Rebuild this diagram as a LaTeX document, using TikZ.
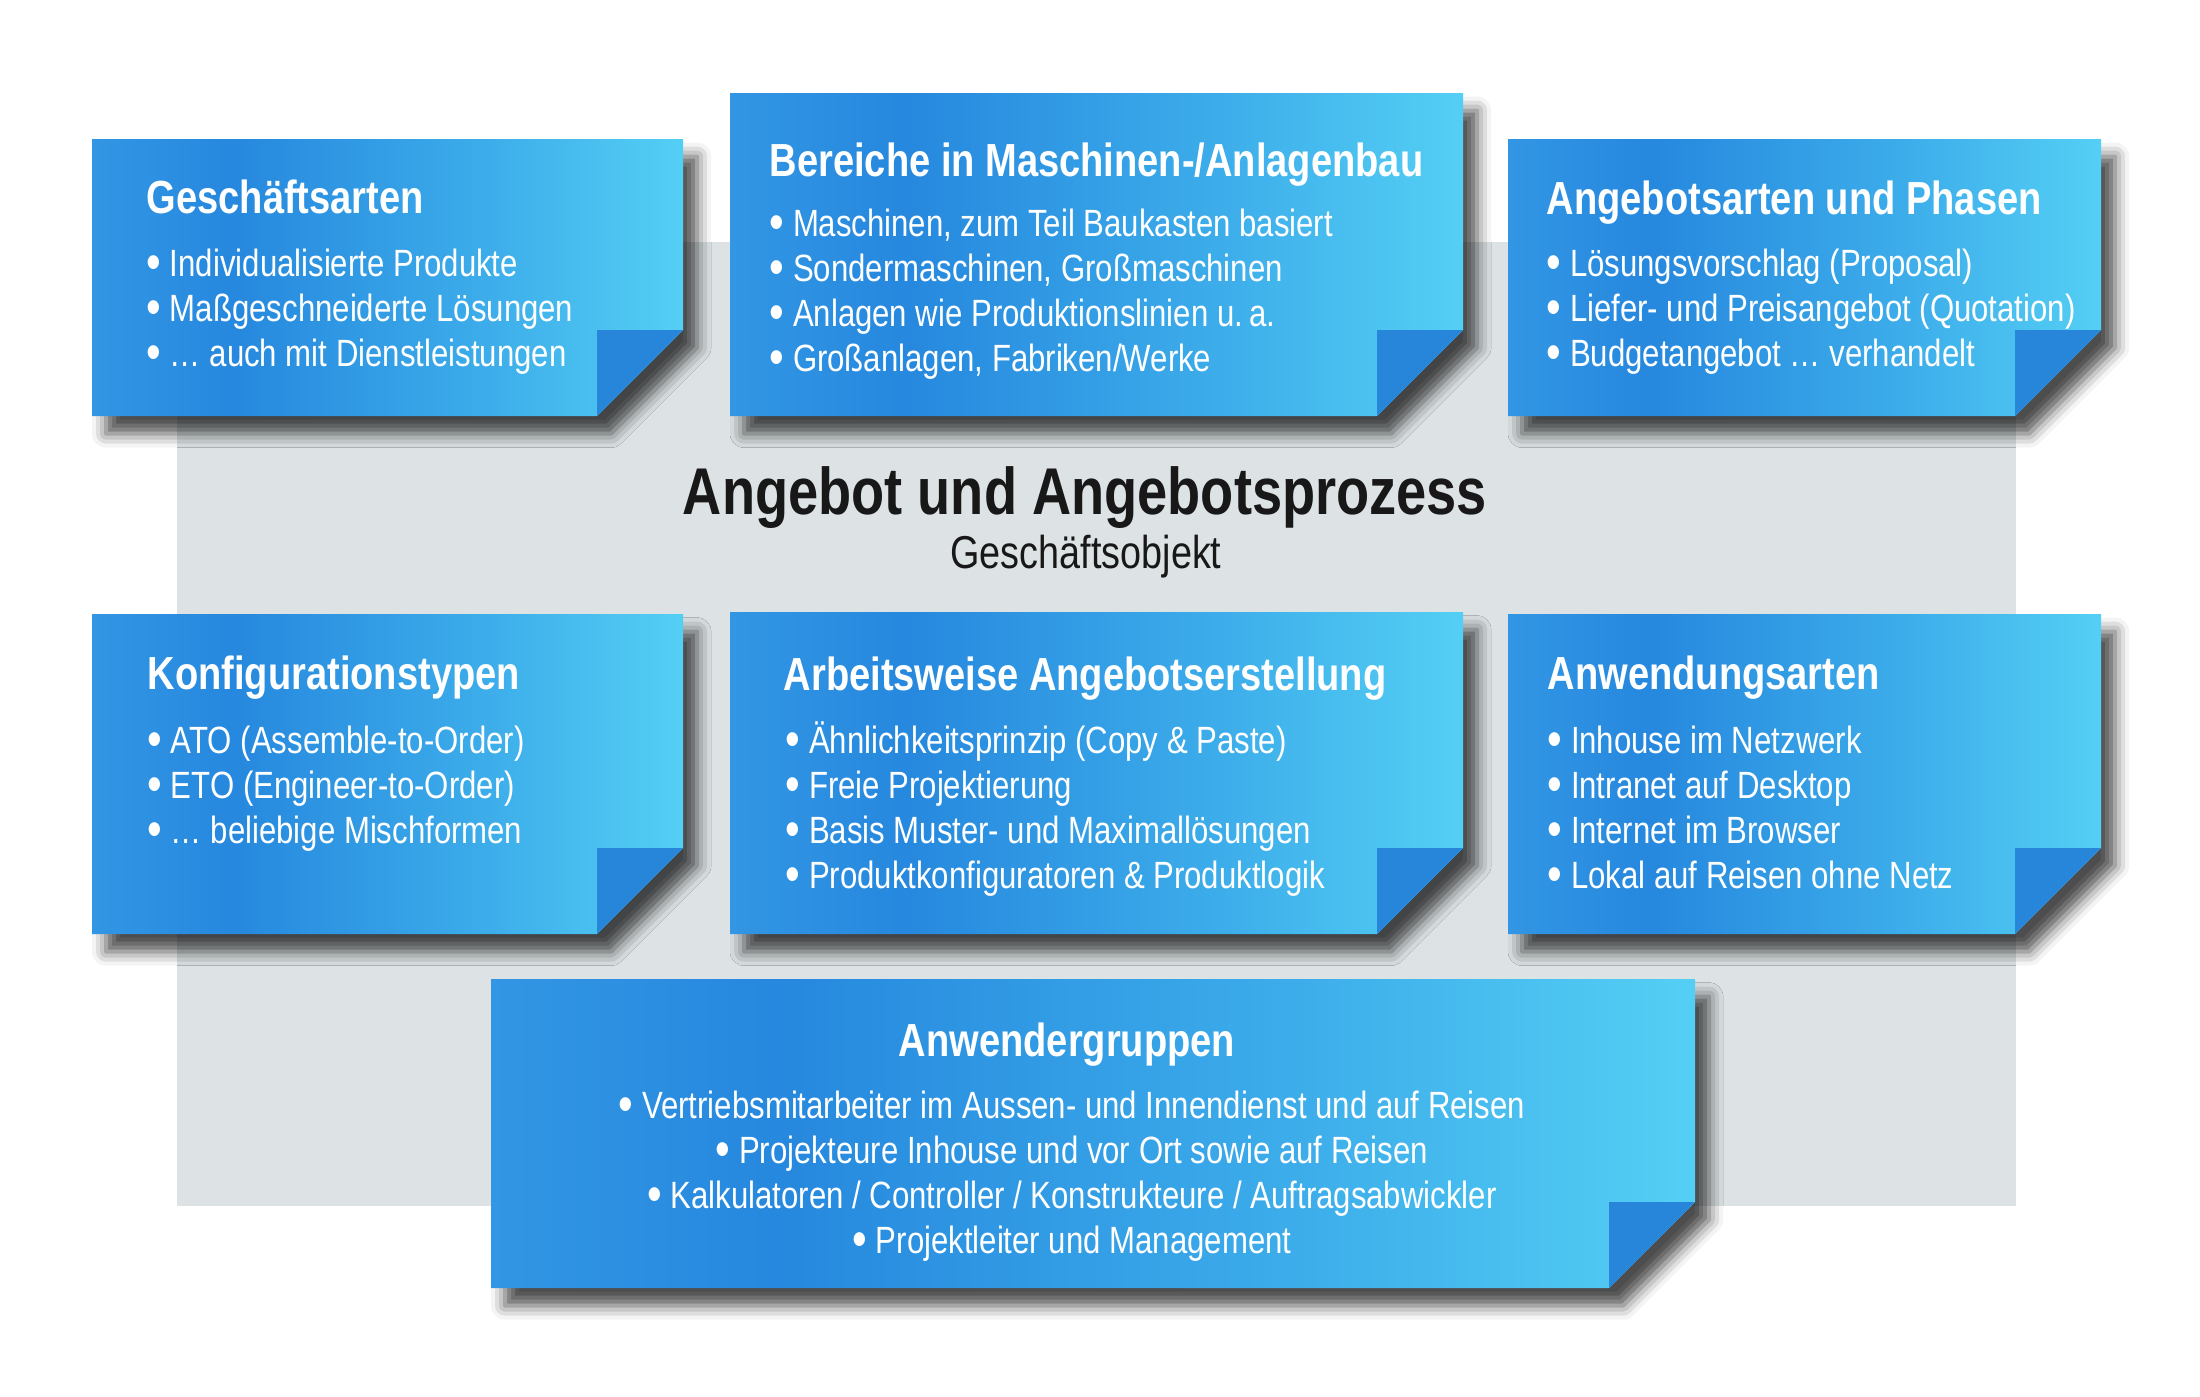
\documentclass[tikz,border=0pt]{standalone}
\usepackage{fontspec}
\setmainfont{Liberation Sans}[FakeStretch=0.82]
\usetikzlibrary{shadows.blur}

\definecolor{sheetleft}{RGB}{50,150,228}
\definecolor{sheetdark}{RGB}{38,136,222}
\definecolor{sheetmid}{RGB}{60,172,234}
\definecolor{sheetlight}{RGB}{84,207,244}
\definecolor{folddark}{RGB}{40,134,218}
\definecolor{backgray}{RGB}{221,227,229}
\definecolor{titleblack}{RGB}{24,24,24}

\pgfdeclarehorizontalshading{sheetshade}{100bp}{color(0bp)=(sheetleft); color(25bp)=(sheetleft); color(37bp)=(sheetdark); color(58bp)=(sheetmid); color(75bp)=(sheetlight); color(100bp)=(sheetlight)}

\tikzset{
    sheet/.style={shading=sheetshade, blur shadow={shadow xshift=4pt, shadow yshift=-5pt, shadow blur radius=4pt, shadow opacity=70}},
    sheettitle/.style={anchor=base west, inner sep=0pt, text=white, font=\fontsize{13.2}{15}\selectfont\bfseries},
    sheetitem/.style={anchor=base west, inner sep=0pt, text=white, font=\fontsize{10.8}{13}\selectfont},
}

% grosser Aufzaehlungspunkt
\newcommand{\sheetdot}{\raisebox{-0.9pt}{\fontsize{14.5}{14}\selectfont\textbullet}\ }

% Blatt mit umgeknickter Ecke: #1 links, #2 oben, #3 rechts, #4 unten (px)
\newcommand{\sheetbox}[4]{%
    \path[sheet] (#1,#2) -- (#3,#2) -- (#3,#4-86) -- (#3-86,#4) -- (#1,#4) -- cycle;
    \fill[folddark] (#3-86,#4-86) -- (#3,#4-86) -- (#3-86,#4) -- cycle;
}

\begin{document}
\begin{tikzpicture}[x=0.01cm, y=-0.01cm]
        \useasboundingbox (0,0) rectangle (2200,1396);
        \fill[backgray] (177,242) rectangle (2016,1206);

        \sheetbox{92}{139}{683}{416}
        \sheetbox{730}{93}{1463}{416}
        \sheetbox{1508}{139}{2101}{416}
        \sheetbox{92}{614}{683}{934}
        \sheetbox{730}{612}{1463}{934}
        \sheetbox{1508}{614}{2101}{934}
        \sheetbox{491}{979}{1695}{1288}

        \node[anchor=base, inner sep=0pt, text=titleblack, font=\fontsize{18.8}{22}\selectfont\bfseries] (Title) at (1085,514) {Angebot und Angebotsprozess};
        \node[anchor=base, inner sep=0pt, text=titleblack, font=\fontsize{13.1}{15}\selectfont] (Subtitle) at (1086,568) {Geschäftsobjekt};

        % oben
        \node[sheettitle] (GeschTitle) at (146,213) {Geschäftsarten};
        \foreach \txt [count=\i] in {Individualisierte Produkte, Maßgeschneiderte Lösungen, … auch mit Dienstleistungen}
            \node[sheetitem] (Gesch\i) at (146,231+45*\i) {\sheetdot\txt};

        \node[sheettitle] (BereichTitle) at (769,176) {Bereiche in Maschinen-/Anlagenbau};
        \foreach \txt [count=\i] in {{Maschinen, zum Teil Baukasten basiert}, {Sondermaschinen, Großmaschinen}, Anlagen wie Produktionslinien u.\,a., {Großanlagen, Fabriken/Werke}}
            \node[sheetitem] (Bereich\i) at (769,191+45*\i) {\sheetdot\txt};

        \node[sheettitle] (PhasenTitle) at (1546,214) {Angebotsarten und Phasen};
        \foreach \txt [count=\i] in {Lösungsvorschlag (Proposal), Liefer- und Preisangebot (Quotation), Budgetangebot … verhandelt}
            \node[sheetitem] (Phasen\i) at (1546,231+45*\i) {\sheetdot\txt};

        % mitte
        \node[sheettitle] (KonfTitle) at (147,689) {Konfigurationstypen};
        \foreach \txt [count=\i] in {ATO (Assemble-to-Order), ETO (Engineer-to-Order), … beliebige Mischformen}
            \node[sheetitem] (Konf\i) at (147,708+45*\i) {\sheetdot\txt};

        \node[sheettitle] (ArbeitTitle) at (783,690) {Arbeitsweise Angebotserstellung};
        \foreach \txt [count=\i] in {Ähnlichkeitsprinzip (Copy \& Paste), Freie Projektierung, Basis Muster- und Maximallösungen, Produktkonfiguratoren \& Produktlogik}
            \node[sheetitem] (Arbeit\i) at (785,708+45*\i) {\sheetdot\txt};

        \node[sheettitle] (ArtenTitle) at (1547,689) {Anwendungsarten};
        \foreach \txt [count=\i] in {Inhouse im Netzwerk, Intranet auf Desktop, Internet im Browser, Lokal auf Reisen ohne Netz}
            \node[sheetitem] (Arten\i) at (1547,708+45*\i) {\sheetdot\txt};

        % unten
        \node[sheettitle, anchor=base] (GruppenTitle) at (1067,1056) {Anwendergruppen};
        \foreach \txt [count=\i] in {Vertriebsmitarbeiter im Aussen- und Innendienst und auf Reisen, Projekteure Inhouse und vor Ort sowie auf Reisen, Kalkulatoren / Controller / Konstrukteure / Auftragsabwickler, Projektleiter und Management}
            \node[sheetitem, anchor=base] (Gruppen\i) at (1072,1073+45*\i) {\sheetdot\txt};
\end{tikzpicture}
\end{document}
